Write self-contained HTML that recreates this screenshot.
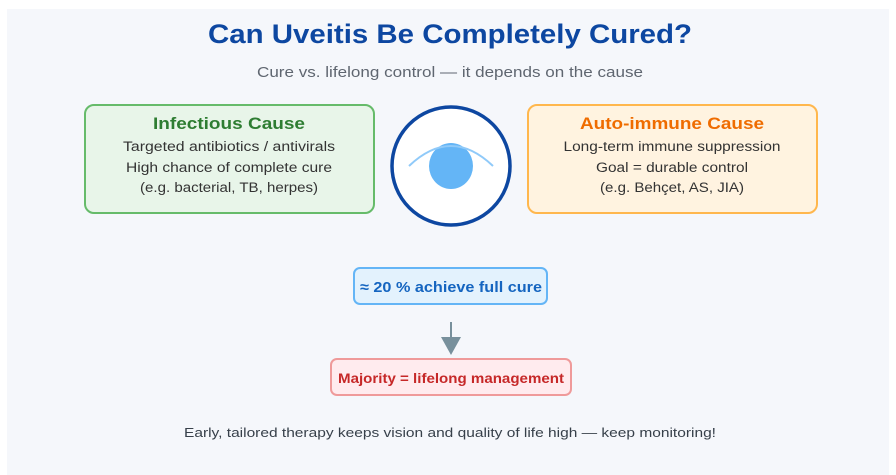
<!DOCTYPE html>
<html><head><meta charset="utf-8"><style>
html,body{margin:0;padding:0;background:#fff;width:896px;height:475px;overflow:hidden}
svg{display:block;font-family:"Liberation Sans",sans-serif}
</style></head><body>
<svg width="896" height="475" viewBox="0 0 896 475">
<rect x="7" y="9" width="882" height="466" fill="#f5f7fb"/>
<text x="450" y="43" text-anchor="middle" font-size="27" font-weight="bold" fill="#0d47a1" textLength="484" lengthAdjust="spacingAndGlyphs">Can Uveitis Be Completely Cured?</text>
<text x="450" y="77" text-anchor="middle" font-size="15" fill="#5f6670" textLength="386" lengthAdjust="spacingAndGlyphs">Cure vs. lifelong control — it depends on the cause</text>
<rect x="85" y="105" width="289" height="108" rx="9" fill="#e8f5e9" stroke="#66bb6a" stroke-width="2"/>
<text x="229" y="129" text-anchor="middle" font-size="17" font-weight="bold" fill="#2e7d32" textLength="152" lengthAdjust="spacingAndGlyphs">Infectious Cause</text>
<text x="229" y="151" text-anchor="middle" font-size="13.5" fill="#333" textLength="212" lengthAdjust="spacingAndGlyphs">Targeted antibiotics / antivirals</text>
<text x="229" y="172" text-anchor="middle" font-size="13.5" fill="#333" textLength="206" lengthAdjust="spacingAndGlyphs">High chance of complete cure</text>
<text x="229" y="192" text-anchor="middle" font-size="13.5" fill="#333" textLength="178" lengthAdjust="spacingAndGlyphs">(e.g. bacterial, TB, herpes)</text>
<rect x="528" y="105" width="289" height="108" rx="9" fill="#fff3e0" stroke="#ffb74d" stroke-width="2"/>
<text x="672" y="129" text-anchor="middle" font-size="17" font-weight="bold" fill="#ef6c00" textLength="184" lengthAdjust="spacingAndGlyphs">Auto-immune Cause</text>
<text x="672" y="151" text-anchor="middle" font-size="13.5" fill="#333" textLength="217" lengthAdjust="spacingAndGlyphs">Long-term immune suppression</text>
<text x="672" y="172" text-anchor="middle" font-size="13.5" fill="#333" textLength="152" lengthAdjust="spacingAndGlyphs">Goal = durable control</text>
<text x="672" y="192" text-anchor="middle" font-size="13.5" fill="#333" textLength="144" lengthAdjust="spacingAndGlyphs">(e.g. Behçet, AS, JIA)</text>
<circle cx="451" cy="166" r="59" fill="#fff" stroke="#0d47a1" stroke-width="3.5"/>
<ellipse cx="451" cy="166" rx="22" ry="23" fill="#64b5f6"/>
<path d="M409 166 Q451 126 493 166" fill="none" stroke="#90caf9" stroke-width="2"/>
<rect x="354" y="268" width="193" height="36" rx="6" fill="#e3f2fd" stroke="#64b5f6" stroke-width="2"/>
<text x="451" y="292" text-anchor="middle" font-size="15" font-weight="bold" fill="#1565c0" textLength="182" lengthAdjust="spacingAndGlyphs">≈ 20 % achieve full cure</text>
<line x1="451" y1="322" x2="451" y2="340" stroke="#78909c" stroke-width="2"/>
<polygon points="441,337 461,337 451,355" fill="#78909c"/>
<rect x="331" y="359" width="240" height="36" rx="6" fill="#ffebee" stroke="#ef9a9a" stroke-width="2"/>
<text x="451" y="383" text-anchor="middle" font-size="14" font-weight="bold" fill="#c62828" textLength="226" lengthAdjust="spacingAndGlyphs">Majority = lifelong management</text>
<text x="450" y="437" text-anchor="middle" font-size="13" fill="#37404a" textLength="532" lengthAdjust="spacingAndGlyphs">Early, tailored therapy keeps vision and quality of life high — keep monitoring!</text>
</svg>
</body></html>
